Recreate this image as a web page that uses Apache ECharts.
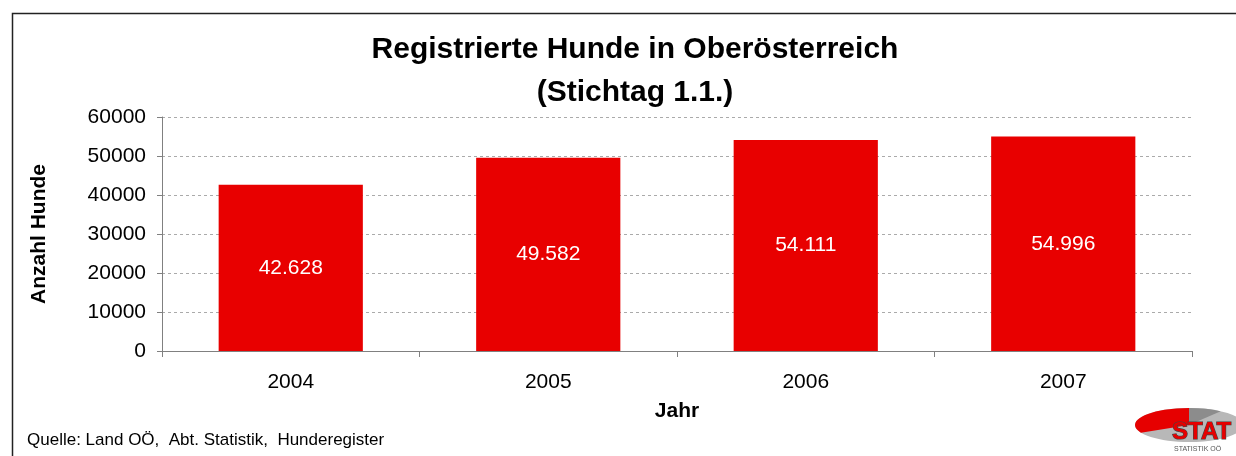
<!DOCTYPE html>
<html>
<head>
<meta charset="utf-8">
<script src="https://cdn.jsdelivr.net/npm/echarts@6/dist/echarts.min.js"></script>
<style>
  html, body { margin: 0; padding: 0; background: #fff; }
  #chart { width: 1236px; height: 456px; }
</style>
</head>
<body>
<div id="chart"></div>
<script>
var years = ['2004', '2005', '2006', '2007'];
var hunde = [42628, 49582, 54111, 54996];
var yTicks = [0, 10000, 20000, 30000, 40000, 50000, 60000];

var myChart = echarts.init(document.getElementById('chart'));

// Tausenderpunkt wie im Original: 42.628
function fmt(v) {
    return String(v).replace(/\B(?=(\d{3})+(?!\d))/g, '.');
}

var option = {
    backgroundColor: '#fff',
    textStyle: { fontFamily: 'Liberation Sans, Arial, sans-serif' },
    title: {
        text: 'Registrierte Hunde in Oberösterreich\n(Stichtag 1.1.)',
        left: 630,
        top: 23,
        textAlign: 'center',
        textStyle: {
            fontSize: 30,
            fontWeight: 'bold',
            color: '#000',
            lineHeight: 43
        }
    },
    grid: {
        left: 162,
        right: 44,
        top: 117,
        bottom: 105
    },
    xAxis: {
        type: 'category',
        data: years,
        name: 'Jahr',
        nameLocation: 'middle',
        nameGap: 50,
        nameTextStyle: { fontSize: 21, fontWeight: 'bold', color: '#000' },
        axisLine: { lineStyle: { color: '#808080', width: 1 } },
        axisTick: { show: true, alignWithLabel: false, length: 6, lineStyle: { color: '#808080' } },
        axisLabel: { fontSize: 21, color: '#000', margin: 21 }
    },
    yAxis: {
        type: 'value',
        min: yTicks[0],
        max: yTicks[yTicks.length - 1],
        interval: 10000,
        name: 'Anzahl Hunde',
        nameLocation: 'middle',
        nameGap: 112,
        nameTextStyle: { fontSize: 21, fontWeight: 'bold', color: '#000' },
        axisLine: { show: true, lineStyle: { color: '#808080', width: 1 } },
        axisTick: { show: true, length: 5, inside: false, lineStyle: { color: '#808080' } },
        axisLabel: {
            fontSize: 21,
            color: '#000',
            margin: 16,
            formatter: function (v) { return String(v); }
        },
        splitLine: { lineStyle: { color: '#aaa', type: [3, 3], width: 1 } }
    },
    series: [{
        type: 'bar',
        data: hunde,
        barWidth: '56%',
        itemStyle: { color: '#E80000' },
        label: {
            show: true,
            position: 'inside',
            color: '#fff',
            fontSize: 21,
            formatter: function (p) { return fmt(p.value); }
        }
    }],
    graphic: [
        {
            type: 'rect',
            left: 10,
            top: 11,
            shape: { x: 0, y: 0, width: 1300, height: 500 },
            style: { fill: 'none', stroke: '#222', lineWidth: 1.5 },
            silent: true
        },
        {
            type: 'text',
            left: 27,
            top: 432,
            style: {
                text: 'Quelle: Land OÖ,  Abt. Statistik,  Hunderegister',
                fontSize: 17,
                fill: '#000',
                fontFamily: 'Liberation Sans, Arial, sans-serif'
            }
        },
        // Logo STAT (grob nachgebildet)
        {
            type: 'group',
            x: 1134,
            y: 405,
            silent: true,
            children: [
                {
                    type: 'ellipse',
                    shape: { cx: 55, cy: 20, rx: 54, ry: 17 },
                    style: { fill: '#b8b8b8' }
                },
                {
                    type: 'sector',
                    shape: { cx: 55, cy: 20, r: 54, r0: 0, startAngle: Math.PI * 0.85, endAngle: Math.PI * 1.5 },
                    scaleY: 17 / 54,
                    originX: 55,
                    originY: 20,
                    style: { fill: '#e60000' }
                },
                {
                    type: 'sector',
                    shape: { cx: 55, cy: 20, r: 54, r0: 0, startAngle: Math.PI * 1.5, endAngle: Math.PI * 1.7 },
                    scaleY: 17 / 54,
                    originX: 55,
                    originY: 20,
                    style: { fill: '#8c8c8c' }
                },
                {
                    type: 'text',
                    x: 38,
                    y: 15,
                    style: {
                        text: 'STAT',
                        fontSize: 24,
                        fontWeight: 'bold',
                        fill: '#e60000',
                        stroke: '#444',
                        lineWidth: 1.2,
                        fontFamily: 'Liberation Sans, Arial, sans-serif'
                    }
                },
                {
                    type: 'text',
                    x: 40,
                    y: 41,
                    style: {
                        text: 'STATISTIK OÖ',
                        fontSize: 7,
                        fill: '#555',
                        fontFamily: 'Liberation Sans, Arial, sans-serif'
                    }
                }
            ]
        }
    ]
};

myChart.setOption(option);
</script>
</body>
</html>
